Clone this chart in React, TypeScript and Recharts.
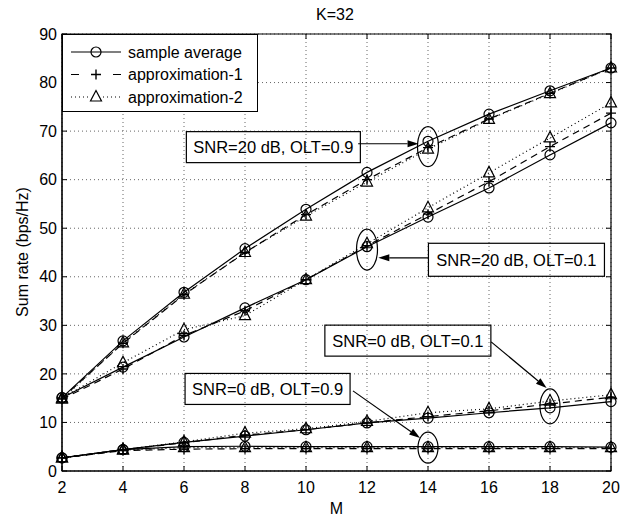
import { CartesianGrid, Line, LineChart, ReferenceArea, ReferenceDot, ReferenceLine, XAxis, YAxis } from 'recharts';

const mValues = [2, 4, 6, 8, 10, 12, 14, 16, 18, 20];
const yTicks = [0, 10, 20, 30, 40, 50, 60, 70, 80, 90];

// SNR=20 dB, OLT=0.9
const avg20High = [15.1, 26.8, 36.8, 45.8, 53.9, 61.5, 67.9, 73.5, 78.3, 83.0];
const apx1_20High = [15.0, 26.3, 36.3, 45.0, 52.8, 60.0, 66.6, 72.5, 77.8, 83.0];
const apx2_20High = [14.8, 26.4, 36.4, 45.0, 52.5, 59.5, 66.3, 72.4, 77.7, 83.0];
// SNR=20 dB, OLT=0.1
const avg20Low = [15.1, 21.4, 27.6, 33.6, 39.4, 46.2, 52.3, 58.3, 65.1, 71.7];
const apx1_20Low = [14.8, 21.0, 27.9, 33.0, 39.4, 46.4, 52.9, 59.6, 66.8, 73.7];
const apx2_20Low = [15.0, 22.3, 29.1, 32.0, 39.4, 46.8, 54.2, 61.4, 68.6, 75.8];
// SNR=0 dB, OLT=0.1
const avg0Low = [2.7, 4.4, 5.9, 7.2, 8.5, 9.9, 10.9, 12.0, 13.0, 14.3];
const apx1_0Low = [2.7, 4.4, 5.8, 7.4, 8.5, 9.9, 11.2, 12.4, 13.8, 15.2];
const apx2_0Low = [2.7, 4.4, 6.0, 7.8, 8.7, 10.2, 12.0, 12.8, 14.4, 15.7];
// SNR=0 dB, OLT=0.9
const avg0High = [2.7, 4.4, 5.0, 5.1, 5.0, 5.0, 5.0, 5.0, 5.0, 4.9];
const apx1_0High = [2.7, 4.2, 4.5, 4.6, 4.6, 4.6, 4.6, 4.6, 4.6, 4.6];
const apx2_0High = [2.7, 4.3, 4.8, 4.8, 4.8, 4.8, 4.8, 4.8, 4.8, 4.8];

type Kind = 'avg' | 'apx1' | 'apx2';

const series: { key: string; kind: Kind; values: number[] }[] = [
  { key: 'avg20High', kind: 'avg', values: avg20High },
  { key: 'apx1_20High', kind: 'apx1', values: apx1_20High },
  { key: 'apx2_20High', kind: 'apx2', values: apx2_20High },
  { key: 'avg20Low', kind: 'avg', values: avg20Low },
  { key: 'apx1_20Low', kind: 'apx1', values: apx1_20Low },
  { key: 'apx2_20Low', kind: 'apx2', values: apx2_20Low },
  { key: 'avg0Low', kind: 'avg', values: avg0Low },
  { key: 'apx1_0Low', kind: 'apx1', values: apx1_0Low },
  { key: 'apx2_0Low', kind: 'apx2', values: apx2_0Low },
  { key: 'avg0High', kind: 'avg', values: avg0High },
  { key: 'apx1_0High', kind: 'apx1', values: apx1_0High },
  { key: 'apx2_0High', kind: 'apx2', values: apx2_0High },
];

const data = mValues.map((m, i) => {
  const row: { [k: string]: number } = { M: m };
  series.forEach((s) => {
    row[s.key] = s.values[i];
  });
  return row;
});

const font = '"Liberation Sans", Arial, Helvetica, sans-serif';

// plot frame (chart margins + axis sizes)
const PLOT_LEFT = 62;
const PLOT_RIGHT = 611;
const PLOT_TOP = 34;
const PLOT_BOTTOM = 471;
const INNER_TICK = 5;

const circleMark = (cx: number, cy: number, key?: string) => (
  <circle key={key} cx={cx} cy={cy} r={5} fill="none" stroke="#000" strokeWidth={1.2} />
);
const plusMark = (cx: number, cy: number, key?: string) => (
  <path key={key} d={`M${cx - 5},${cy}H${cx + 5}M${cx},${cy - 5}V${cy + 5}`} stroke="#000" strokeWidth={1.4} fill="none" />
);
const triMark = (cx: number, cy: number, key?: string) => (
  <path key={key} d={`M${cx},${cy - 6.5}L${cx - 5.5},${cy + 4}L${cx + 5.5},${cy + 4}Z`} stroke="#000" strokeWidth={1.2} fill="none" />
);

const markFor = { avg: circleMark, apx1: plusMark, apx2: triMark };
const dashFor = { avg: undefined, apx1: '7 5', apx2: '1 3' };

const XTick = (p: any) => (
  <g>
    <line x1={p.x} x2={p.x} y1={PLOT_BOTTOM} y2={PLOT_BOTTOM - INNER_TICK} stroke="#000" />
    <line x1={p.x} x2={p.x} y1={PLOT_TOP} y2={PLOT_TOP + INNER_TICK} stroke="#000" />
    <text x={p.x} y={p.y} dy="0.71em" textAnchor="middle" fontSize={16} fontFamily={font} fill="#000">
      {p.payload.value}
    </text>
  </g>
);

const YTick = (p: any) => (
  <g>
    <line x1={PLOT_LEFT} x2={PLOT_LEFT + INNER_TICK} y1={p.y} y2={p.y} stroke="#000" />
    <line x1={PLOT_RIGHT} x2={PLOT_RIGHT - INNER_TICK} y1={p.y} y2={p.y} stroke="#000" />
    <text x={p.x} y={p.y} dy="0.355em" textAnchor="end" fontSize={16} fontFamily={font} fill="#000">
      {p.payload.value}
    </text>
  </g>
);

const Arrow = (p: any) => {
  const { x1, y1, x2, y2 } = p;
  const a = Math.atan2(y2 - y1, x2 - x1);
  const len = 11;
  const w = 3.5;
  const bx = x2 - len * Math.cos(a);
  const by = y2 - len * Math.sin(a);
  const nx = -Math.sin(a) * w;
  const ny = Math.cos(a) * w;
  return (
    <g>
      <line x1={x1} y1={y1} x2={bx} y2={by} stroke="#000" strokeWidth={1.2} />
      <path d={`M${x2},${y2}L${bx + nx},${by + ny}L${bx - nx},${by - ny}Z`} fill="#000" />
    </g>
  );
};

const ellipse = (rx: number, ry: number) => (p: any) => (
  <ellipse cx={p.cx} cy={p.cy} rx={rx} ry={ry} fill="none" stroke="#000" strokeWidth={1.2} />
);

const textBox = (text: string, w: number, h: number) => (p: any) => (
  <g>
    <rect x={p.cx - w / 2} y={p.cy - h / 2} width={w} height={h} fill="none" stroke="#000" strokeWidth={1.2} />
    <text x={p.cx} y={p.cy} textAnchor="middle" dominantBaseline="central" fontSize={16.5} fontFamily={font} fill="#000">
      {text}
    </text>
  </g>
);

const legendRows: { label: string; kind: Kind }[] = [
  { label: 'sample average', kind: 'avg' },
  { label: 'approximation-1', kind: 'apx1' },
  { label: 'approximation-2', kind: 'apx2' },
];

const ChartLegend = () => (
  <div
    style={{
      position: 'absolute',
      left: 62,
      top: 34,
      width: 196,
      height: 78,
      border: '1px solid #000',
      background: '#fff',
      boxSizing: 'border-box',
    }}
  >
    <svg width={194} height={76} style={{ display: 'block' }}>
      {legendRows.map((r, i) => {
        const y = 17 + i * 22.5;
        return (
          <g key={r.label}>
            {r.kind === 'avg' && <line x1={8} x2={58} y1={y} y2={y} stroke="#000" strokeWidth={1.2} />}
            {r.kind === 'apx1' && <line x1={8} x2={58} y1={y} y2={y} stroke="#000" strokeWidth={1.2} strokeDasharray="8 17 0 17 8" />}
            {r.kind === 'apx2' && <line x1={8} x2={58} y1={y} y2={y} stroke="#000" strokeWidth={1.2} strokeDasharray="1 3" />}
            {r.kind === 'apx2' && <rect x={26} y={y - 8} width={14} height={16} fill="#fff" />}
            {markFor[r.kind](33, y)}
            <text x={65} y={y} dominantBaseline="central" fontSize={16} fontFamily={font} fill="#000">
              {r.label}
            </text>
          </g>
        );
      })}
    </svg>
  </div>
);

export default function App() {
  return (
    <div style={{ position: 'relative', width: 630, height: 520, background: '#fff', fontFamily: font }}>
      <style>{'body{margin:0}'}</style>
      <LineChart width={630} height={520} data={data} margin={{ top: 34, right: 19, bottom: 0, left: 0 }}>
        <CartesianGrid stroke="#666" strokeDasharray="1 3" />
        <XAxis
          dataKey="M"
          type="number"
          domain={[2, 20]}
          ticks={mValues}
          height={49}
          tickLine={false}
          tickSize={11}
          tickMargin={0}
          axisLine={{ stroke: '#000' }}
          tick={XTick}
          label={{ value: 'M', position: 'insideBottom', offset: 6, fill: '#000', fontSize: 16, fontFamily: font }}
        />
        <YAxis
          type="number"
          domain={[0, 90]}
          ticks={yTicks}
          width={62}
          tickLine={false}
          tickSize={4}
          tickMargin={1}
          axisLine={{ stroke: '#000' }}
          tick={YTick}
          label={{
            content: () => (
              <text x={22} y={252} transform="rotate(-90 22 252)" textAnchor="middle" dominantBaseline="central" fontSize={16} fontFamily={font} fill="#000">
                Sum rate (bps/Hz)
              </text>
            ),
          }}
        />
        <ReferenceArea x1={2} x2={20} y1={0} y2={90} fill="none" stroke="#000" strokeWidth={1.2} />
        {series.map((s) => (
          <Line
            key={s.key}
            dataKey={s.key}
            type="linear"
            stroke="#000"
            strokeWidth={1.2}
            strokeDasharray={dashFor[s.kind]}
            isAnimationActive={false}
            dot={(p: any) => markFor[s.kind](p.cx, p.cy, `${s.key}-${p.index}`)}
            activeDot={false}
          />
        ))}
        <ReferenceDot x={14} y={66.8} r={0} shape={ellipse(10.5, 20)} />
        <ReferenceDot x={12} y={45.6} r={0} shape={ellipse(10.5, 20.5)} />
        <ReferenceDot x={18} y={13.3} r={0} shape={ellipse(10, 17.5)} />
        <ReferenceDot x={14} y={4.8} r={0} shape={ellipse(10, 15.5)} />
        <ReferenceDot x={8.93} y={66.7} r={0} shape={textBox('SNR=20 dB, OLT=0.9', 174, 31)} />
        <ReferenceDot x={16.9} y={43.5} r={0} shape={textBox('SNR=20 dB, OLT=0.1', 176, 33)} />
        <ReferenceDot x={13.34} y={26.85} r={0} shape={textBox('SNR=0 dB, OLT=0.1', 166, 31)} />
        <ReferenceDot x={8.74} y={16.9} r={0} shape={textBox('SNR=0 dB, OLT=0.9', 165, 31)} />
        <ReferenceLine segment={[{ x: 11.71, y: 67.4 }, { x: 13.69, y: 67.4 }]} shape={Arrow} />
        <ReferenceLine segment={[{ x: 14.0, y: 43.9 }, { x: 12.37, y: 43.9 }]} shape={Arrow} />
        <ReferenceLine segment={[{ x: 16.07, y: 26.6 }, { x: 17.89, y: 17.1 }]} shape={Arrow} />
        <ReferenceLine segment={[{ x: 11.54, y: 16.5 }, { x: 13.74, y: 6.8 }]} shape={Arrow} />
      </LineChart>
      <div style={{ position: 'absolute', left: 335, top: 6, transform: 'translateX(-50%)', fontSize: 16, color: '#000' }}>K=32</div>
      <ChartLegend />
    </div>
  );
}
